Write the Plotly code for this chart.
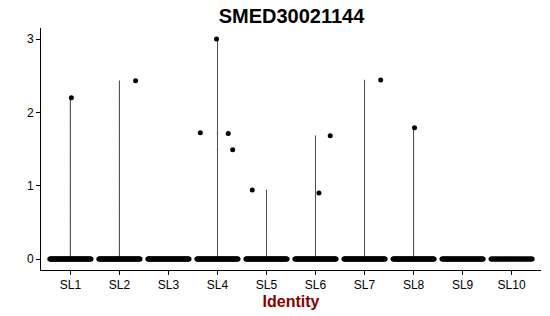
import plotly.graph_objects as go

# ---- data ----
clusters = ["SL1", "SL2", "SL3", "SL4", "SL5", "SL6", "SL7", "SL8", "SL9", "SL10"]
n_zero = [80, 80, 80, 80, 80, 80, 80, 80, 70, 50]          # cells with zero expression
nz_values = [[2.20], [2.43], [], [3.00, 1.72, 1.71, 1.49], [0.94],
             [0.90, 1.68], [2.44], [1.79], [], []]          # non-zero expression
nz_jitter = [[0.02], [0.33], [], [-0.02, -0.35, 0.22, 0.31], [-0.29],
             [0.07, 0.30], [0.33], [0.02], [], []]          # horizontal jitter

fig = go.Figure()

px, py = [], []
for i, name in enumerate(clusters):
    pos = i + 1
    vals = [0.0] * n_zero[i] + nz_values[i]
    if max(vals) > 0:
        fig.add_trace(go.Violin(
            x=[pos] * len(vals), y=vals, width=0.9, scalemode="width",
            spanmode="hard", bandwidth=0.004, points=False,
            line=dict(color="#333333", width=0.8), fillcolor="rgba(0,0,0,0)",
            box_visible=False, meanline_visible=False, showlegend=False,
            hoverinfo="skip"))
    n = n_zero[i]
    for k in range(n):
        off = -0.42 + 0.84 * k / (n - 1)
        px.append(pos + off)
        py.append(0.0)
    for v, j in zip(nz_values[i], nz_jitter[i]):
        px.append(pos + j)
        py.append(v)

fig.add_trace(go.Scatter(x=px, y=py, mode="markers",
                         marker=dict(color="black", size=5, line=dict(width=0)),
                         showlegend=False, hoverinfo="skip"))

axis_common = dict(showline=True, linecolor="black", linewidth=1, ticks="outside",
                   ticklen=4, tickcolor="black", showgrid=False, zeroline=False,
                   tickfont=dict(size=12, color="black"))

fig.update_layout(
    width=550, height=316,
    margin=dict(l=41, r=9, t=28, b=46),
    paper_bgcolor="white", plot_bgcolor="white",
    font=dict(family="Liberation Sans, Arial, sans-serif"),
    title=dict(text="<b>SMED30021144</b>", x=0.53, xanchor="center",
               y=0.95, yanchor="middle", yref="container",
               font=dict(size=20, color="black")),
    xaxis=dict(range=[0.4, 10.6], tickvals=list(range(1, 11)), ticktext=clusters,
               title=dict(text="<b>Identity</b>", standoff=4,
                          font=dict(size=16, color="#8B0000")),
               **axis_common),
    yaxis=dict(range=[-0.15, 3.15], tickvals=[0, 1, 2, 3], **axis_common),
)

fig.write_html("out.html")
